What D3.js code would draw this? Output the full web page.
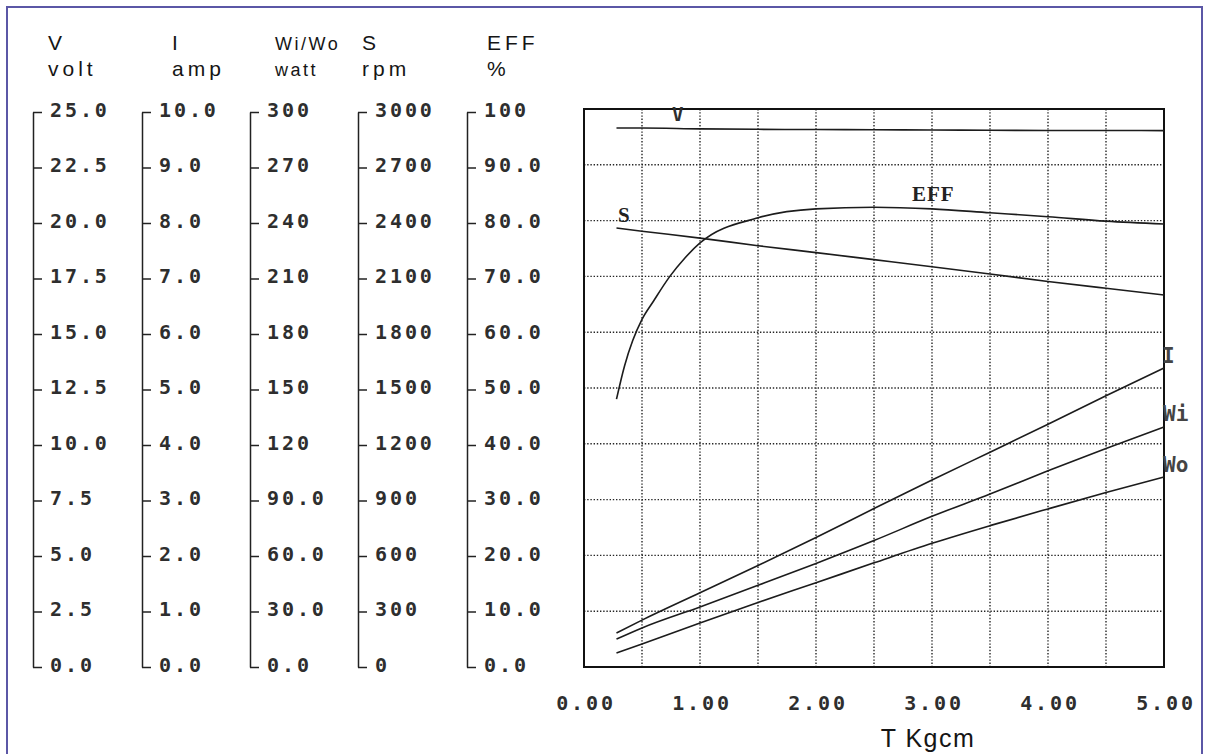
<!DOCTYPE html>
<html>
<head>
<meta charset="utf-8">
<script src="https://cdn.jsdelivr.net/npm/d3@7/dist/d3.min.js"></script>
<style>
	body { margin: 0; background: #fff; }
	svg { display: block; }
	.dm text, text.dm { font-family: "DejaVu Sans Mono", monospace; font-weight: bold; font-size: 20px; letter-spacing: 2.9px; fill: #2e2e2e; }
	.head { font-family: "Liberation Sans", Arial, sans-serif; fill: #151515; }
	.lbl { font-family: "Liberation Serif", "Times New Roman", serif; font-weight: bold; font-size: 21px; fill: #222; }
	.grid line { stroke: #262626; stroke-width: 1.4; stroke-dasharray: 1.4 1.8; }
</style>
</head>
<body>
<svg width="1209" height="754"></svg>
<script>
/*
 * Motor performance curves: V, I, Wi, Wo, S, EFF versus torque T
 */

// torque points (Kgcm)
var torque = [0.28, 0.5, 1.0, 1.5, 2.0, 2.5, 3.0, 3.5, 4.0, 4.5, 5.0];
var volt = [24.15, 24.15, 24.11, 24.09, 24.08, 24.07, 24.06, 24.05, 24.04, 24.04, 24.03];
var amp = [0.61, 0.84, 1.33, 1.82, 2.32, 2.84, 3.35, 3.85, 4.35, 4.86, 5.36];
var wattIn = [15.0, 21.0, 32.3, 43.9, 55.7, 68.0, 81.0, 93.0, 105.5, 117.5, 129.0];
var wattOut = [7.5, 12.4, 23.7, 34.7, 45.3, 56.0, 66.5, 76.0, 85.0, 93.8, 102.2];
var speed = [2360, 2343, 2306, 2265, 2228, 2190, 2152, 2113, 2073, 2036, 2000];

// efficiency is read on a finer torque step near the start
var effTorque = [0.28, 0.35, 0.42, 0.5, 0.6, 0.74, 0.87, 1.0, 1.5, 2.0, 2.5, 3.0, 3.5, 4.0, 4.5, 5.0];
var eff = [48.0, 54.0, 58.5, 62.3, 65.6, 70.0, 73.3, 76.0, 80.5, 82.1, 82.4, 82.1, 81.4, 80.7, 79.9, 79.4];

// axis ranges and tick labels
var vDomain = [0, 25];
var iDomain = [0, 10];
var wDomain = [0, 300];
var sDomain = [0, 3000];
var effDomain = [0, 100];
var vTicks = ['25.0', '22.5', '20.0', '17.5', '15.0', '12.5', '10.0', '7.5', '5.0', '2.5', '0.0'];
var iTicks = ['10.0', '9.0', '8.0', '7.0', '6.0', '5.0', '4.0', '3.0', '2.0', '1.0', '0.0'];
var wTicks = ['300', '270', '240', '210', '180', '150', '120', '90.0', '60.0', '30.0', '0.0'];
var sTicks = ['3000', '2700', '2400', '2100', '1800', '1500', '1200', '900', '600', '300', '0'];
var effTicks = ['100', '90.0', '80.0', '70.0', '60.0', '50.0', '40.0', '30.0', '20.0', '10.0', '0.0'];
var headTop = ['V', 'I', 'Wi/Wo', 'S', 'EFF'];
var headUnit = ['volt', 'amp', 'watt', 'rpm', '%'];
var xTicks = ['0.00', '1.00', '2.00', '3.00', '4.00', '5.00'];

var svg = d3.select('svg');

// outer frame
svg.append('rect')
	.attr('x', 7).attr('y', 7)
	.attr('width', 1195).attr('height', 770)
	.attr('fill', 'none')
	.attr('stroke', '#5b57a6')
	.attr('stroke-width', 2);

var plot = { left: 584, right: 1164, top: 109, bottom: 667 };
var axisTop = 112;

var x = d3.scaleLinear().domain([0, 5]).range([plot.left, plot.right]);

// left stacked axes
var axes = [
	{ domain: vDomain, ticks: vTicks, at: 33, head: 48 },
	{ domain: iDomain, ticks: iTicks, at: 142, head: 172 },
	{ domain: wDomain, ticks: wTicks, at: 250, head: 275 },
	{ domain: sDomain, ticks: sTicks, at: 358, head: 362 },
	{ domain: effDomain, ticks: effTicks, at: 467, head: 487 }
];

axes.forEach(function (a, k) {
	var scale = d3.scaleLinear().domain(a.domain).range([plot.bottom, axisTop]);
	var values = a.ticks.map(function (t) { return +t; });
	var g = svg.append('g')
		.attr('class', 'dm')
		.attr('transform', 'translate(' + a.at + ',0)')
		.call(d3.axisRight(scale)
			.tickValues(values)
			.tickFormat(function (d, i) { return a.ticks[i]; })
			.tickSizeInner(9)
			.tickSizeOuter(0)
			.tickPadding(8));
	g.select('.domain').attr('stroke', '#222').attr('stroke-width', 1.5);
	g.selectAll('.tick line').attr('stroke', '#222').attr('stroke-width', 1.5);
	g.selectAll('.tick text').attr('dy', '0.2em').attr('fill', '#2e2e2e');

	var small = k === 2;
	svg.append('text')
		.attr('class', 'head')
		.attr('x', a.head).attr('y', 50)
		.style('font-size', small ? '18px' : '21px')
		.style('letter-spacing', small ? '2.5px' : '4px')
		.text(headTop[k]);
	svg.append('text')
		.attr('class', 'head')
		.attr('x', a.head).attr('y', 76)
		.style('font-size', small ? '18px' : '21px')
		.style('letter-spacing', small ? '2.5px' : '4px')
		.text(headUnit[k]);
});

// plot scales
var yV = d3.scaleLinear().domain(vDomain).range([plot.bottom, plot.top]);
var yI = d3.scaleLinear().domain(iDomain).range([plot.bottom, plot.top]);
var yW = d3.scaleLinear().domain(wDomain).range([plot.bottom, plot.top]);
var yS = d3.scaleLinear().domain(sDomain).range([plot.bottom, plot.top]);
var yE = d3.scaleLinear().domain(effDomain).range([plot.bottom, plot.top]);

// grid
var grid = svg.append('g').attr('class', 'grid');
grid.selectAll('line.v')
	.data(d3.range(1, 10).map(function (i) { return i * 0.5; }))
	.enter().append('line')
	.attr('x1', function (d) { return x(d); })
	.attr('x2', function (d) { return x(d); })
	.attr('y1', plot.top).attr('y2', plot.bottom);
grid.selectAll('line.h')
	.data(d3.range(1, 10).map(function (i) { return i * 10; }))
	.enter().append('line')
	.attr('x1', plot.left).attr('x2', plot.right)
	.attr('y1', function (d) { return yE(d); })
	.attr('y2', function (d) { return yE(d); });

// plot frame
svg.append('rect')
	.attr('x', plot.left).attr('y', plot.top)
	.attr('width', plot.right - plot.left)
	.attr('height', plot.bottom - plot.top)
	.attr('fill', 'none')
	.attr('stroke', '#111')
	.attr('stroke-width', 2);

// x axis labels
var xg = svg.append('g')
	.attr('class', 'dm')
	.attr('transform', 'translate(0,' + plot.bottom + ')')
	.call(d3.axisBottom(x)
		.tickValues(xTicks.map(function (t) { return +t; }))
		.tickFormat(function (d, i) { return xTicks[i]; })
		.tickSize(0));
xg.select('.domain').remove();
xg.selectAll('.tick text').attr('y', 43).attr('dy', 0).attr('dx', '1.5px').attr('fill', '#2e2e2e');

svg.append('text')
	.attr('class', 'head')
	.attr('x', 928).attr('y', 747)
	.attr('text-anchor', 'middle')
	.style('font-size', '25px')
	.style('letter-spacing', '1.5px')
	.text('T Kgcm');

// curves
var drawCurve = function (xs, ys, scale) {
	var pts = xs.map(function (t, i) { return [t, ys[i]]; });
	svg.append('path')
		.datum(pts)
		.attr('fill', 'none')
		.attr('stroke', '#1c1c1c')
		.attr('stroke-width', 1.6)
		.attr('d', d3.line()
			.x(function (d) { return x(d[0]); })
			.y(function (d) { return scale(d[1]); })
			.curve(d3.curveMonotoneX));
};

drawCurve(torque, volt, yV);
drawCurve(torque, speed, yS);
drawCurve(effTorque, eff, yE);
drawCurve(torque, amp, yI);
drawCurve(torque, wattIn, yW);
drawCurve(torque, wattOut, yW);

// curve labels
svg.append('text').attr('class', 'dm').attr('x', 672).attr('y', 121)
	.style('font-size', '19px').style('letter-spacing', '0px').text('V');
svg.append('text').attr('class', 'lbl').attr('x', 618).attr('y', 222).text('S');
svg.append('text').attr('class', 'lbl').attr('x', 912).attr('y', 201)
	.style('letter-spacing', '1px').text('EFF');
svg.append('text').attr('class', 'dm').attr('x', 1162).attr('y', 363)
	.style('font-size', '21px').style('letter-spacing', '0px').style('fill', '#444').text('I');
svg.append('text').attr('class', 'dm').attr('x', 1163).attr('y', 421)
	.style('font-size', '21px').style('letter-spacing', '0px').style('fill', '#444').text('Wi');
svg.append('text').attr('class', 'dm').attr('x', 1163).attr('y', 472)
	.style('font-size', '21px').style('letter-spacing', '0px').style('fill', '#444').text('Wo');
</script>
</body>
</html>
